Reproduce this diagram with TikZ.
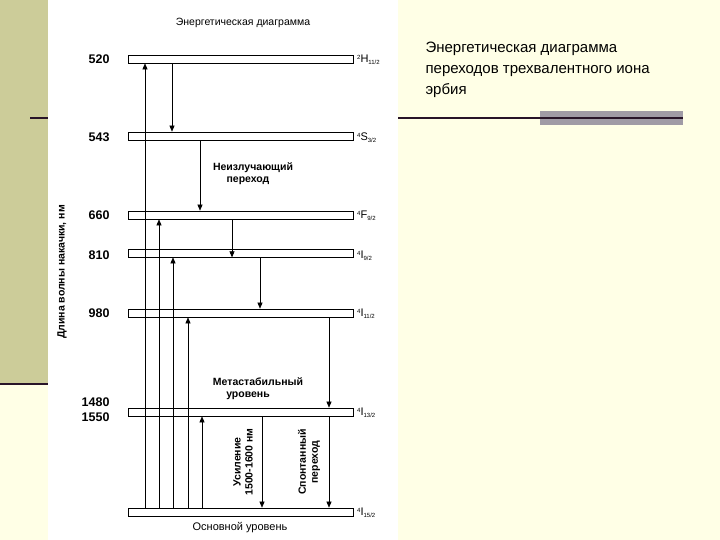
\documentclass[tikz,border=0pt]{standalone}
\usepackage{fontspec}
\setmainfont{Liberation Sans}
\usetikzlibrary{arrows.meta}
\definecolor{cream}{RGB}{255,255,230}
\definecolor{olive}{RGB}{204,204,153}
\definecolor{darkln}{RGB}{40,20,40}
\definecolor{grayrect}{RGB}{160,155,165}
\newcommand{\trm}[3]{\raisebox{3pt}{\fontsize{6}{6}\selectfont #1}#2\raisebox{-2pt}{\fontsize{6}{6}\selectfont #3}}
\tikzset{
  lvl/.style={draw=black,line width=0.7pt,fill=white,minimum width=225pt,minimum height=8pt,inner sep=0pt},
  arr/.style={-{Triangle[length=6pt,width=5pt]},line width=0.6pt},
  num/.style={font=\fontsize{12.5}{12}\selectfont\bfseries,anchor=east},
  term/.style={font=\fontsize{11}{11}\selectfont,anchor=west,inner sep=1pt},
  lbl/.style={font=\fontsize{10.5}{12}\selectfont\bfseries,align=center}
}
\begin{document}
\begin{tikzpicture}[x=1pt,y=-1pt]
\useasboundingbox (0,0) rectangle (720,540);
\fill[cream] (0,0) rectangle (720,540);
\fill[olive] (0,0) rectangle (48,384);
\draw[darkln,line width=2pt] (0,384) -- (48,384);
\draw[darkln,line width=1.5pt] (30,118) -- (48,118);
\fill[grayrect] (540,111) rectangle (683,125);
\draw[darkln,line width=1.5pt] (398,118) -- (683,118);
\fill[white] (48,0) rectangle (398,540);
\node[lbl,font=\fontsize{10.5}{12}\selectfont] (title) at (243,23) {Энергетическая диаграмма};
% levels
\node[lvl] (L1) at (240.5,59) {};
\node[lvl] (L2) at (240.5,136) {};
\node[lvl] (L3) at (240.5,215) {};
\node[lvl] (L4) at (240.5,253) {};
\node[lvl] (L5) at (240.5,313) {};
\node[lvl] (L6) at (240.5,412) {};
\node[lvl] (L7) at (240.5,512) {};
% numbers
\node[num] (n1) at (113,59) {520};
\node[num] (n2) at (113,137) {543};
\node[num] (n3) at (113,215) {660};
\node[num] (n4) at (113,255) {810};
\node[num] (n5) at (113,313) {980};
\node[num] (n6) at (113,402) {1480};
\node[num] (n7) at (113,417) {1550};
% terms
\node[term] (t1) at (356,60) {\trm{2}{H}{11/2}};
\node[term] (t2) at (356,138) {\trm{4}{S}{3/2}};
\node[term] (t3) at (356,216) {\trm{4}{F}{9/2}};
\node[term] (t4) at (356,256) {\trm{4}{I}{9/2}};
\node[term] (t5) at (356,314) {\trm{4}{I}{11/2}};
\node[term] (t6) at (356,413) {\trm{4}{I}{13/2}};
\node[term] (t7) at (356,513) {\trm{4}{I}{15/2}};
% up arrows
\draw[arr] (L7.north -| 145,0) -- (L1.south -| 145,0);
\draw[arr] (L7.north -| 159,0) -- (L3.south -| 159,0);
\draw[arr] (L7.north -| 173,0) -- (L4.south -| 173,0);
\draw[arr] (L7.north -| 188,0) -- (L5.south -| 188,0);
\draw[arr] (L7.north -| 202,0) -- (L6.south -| 202,0);
% down arrows
\draw[arr] (L1.south -| 172,0) -- (L2.north -| 172,0);
\draw[arr] (L2.south -| 200,0) -- (L3.north -| 200,0);
\draw[arr] (L3.south -| 232,0) -- (L4.south -| 232,0);
\draw[arr] (L4.south -| 260,0) -- (L5.north -| 260,0);
\draw[arr] (L5.south -| 329,0) -- (L6.north -| 329,0);
\draw[arr] (L6.south -| 262,0) -- (L7.north -| 262,0);
\draw[arr] (L6.south -| 329,0) -- (L7.north -| 329,0);
% labels
\node[lbl] (nr) at (253,174) {Неизлучающий\\\hspace*{-10pt}переход};
\node[lbl] (ms) at (258,389) {Метастабильный\\\hspace*{-20pt}уровень};
\node[lbl,rotate=90] (us) at (243,462) {Усиление\\1500-1600 нм};
\node[lbl,rotate=90] (sp) at (309,462) {Спонтанный\\переход};
\node[lbl,font=\fontsize{11}{12}\selectfont] (gr) at (240,528) {Основной уровень};
\node[lbl,rotate=90] (ax) at (62,272) {Длина волны накачки, нм};
\node[font=\fontsize{15}{21}\selectfont,align=left,anchor=north west] (cap) at (422,38) {Энергетическая диаграмма\\переходов трехвалентного иона\\эрбия};
\end{tikzpicture}
\end{document}
